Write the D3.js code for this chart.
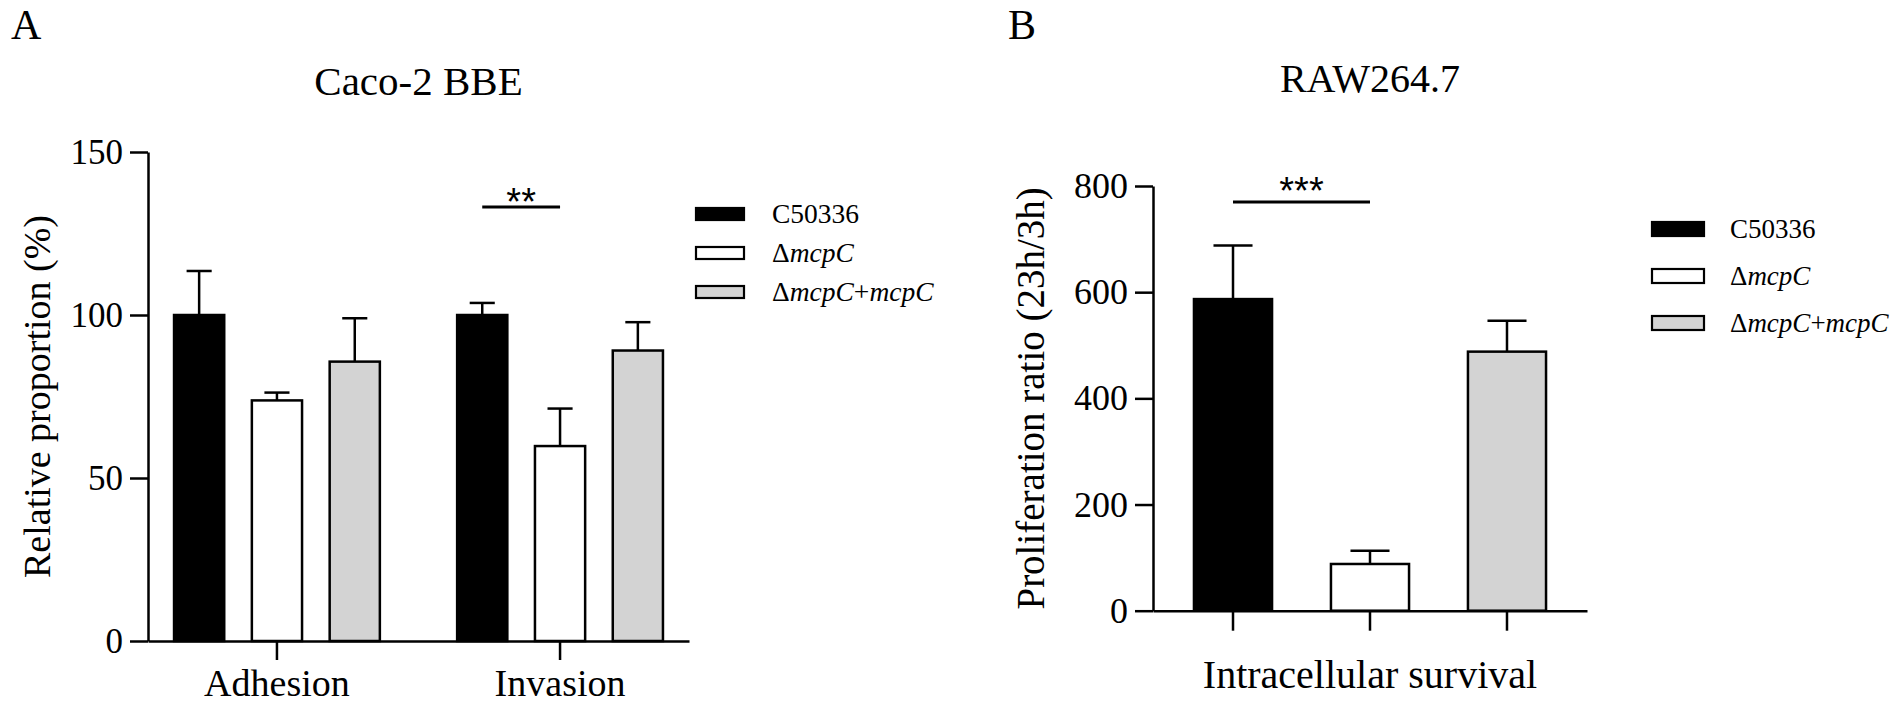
<!DOCTYPE html>
<html>
<head>
<meta charset="utf-8">
<script src="https://cdn.jsdelivr.net/npm/d3@7"></script>
<style>
  html, body { margin: 0; padding: 0; background: #fff; }
  svg { display: block; }
</style>
</head>
<body>
<svg id="chart" width="1902" height="708"></svg>
<script>
// ---------- data ----------
const seriesNames = ["C50336", "ΔmcpC", "ΔmcpC+mcpC"];
const seriesFill = ["#000000", "#ffffff", "#d3d3d3"];

const groupsA = ["Adhesion", "Invasion"];
const adhesionMeans = [100, 73.8, 85.7];
const adhesionSD = [13.5, 2.4, 13.3];
const invasionMeans = [100, 59.8, 89.1];
const invasionSD = [3.7, 11.5, 8.7];
const ticksA = [0, 50, 100, 150];

const categoryB = "Intracellular survival";
const survivalMeans = [587, 88, 488];
const survivalSD = [101, 25, 58];
const ticksB = [0, 200, 400, 600, 800];

// ---------- helpers ----------
const SERIF = "'Liberation Serif', 'Times New Roman', Times, serif";
const SANS = "'Liberation Sans', Arial, sans-serif";
const svg = d3.select("#chart").style("font-family", SERIF);
const SW = 2.5;

function T(sel) { return sel.style("font-family", SERIF).attr("fill", "#000"); }

function legendLabel(sel, name) {
  if (name.startsWith("Δ")) {
    sel.append("tspan").style("font-family", SERIF).text("Δ");
    const parts = name.slice(1).split("+");
    sel.append("tspan").style("font-family", SERIF).attr("font-style", "italic").text(parts[0]);
    if (parts.length > 1) {
      sel.append("tspan").style("font-family", SERIF).text("+");
      sel.append("tspan").style("font-family", SERIF).attr("font-style", "italic").text(parts[1]);
    }
  } else {
    sel.text(name);
  }
}

function drawYAxis(g, y, x0, ticks, fontSize) {
  const ax = d3.axisLeft(y).tickValues(ticks).tickSize(18).tickPadding(7).tickSizeOuter(0);
  const a = g.append("g").attr("transform", `translate(${x0},0)`).call(ax);
  a.attr("font-family", null);
  a.select(".domain").attr("stroke", "#000").attr("stroke-width", SW);
  a.selectAll(".tick line").attr("stroke", "#000").attr("stroke-width", SW);
  T(a.selectAll(".tick text")).attr("font-size", fontSize);
  return a;
}

function drawBars(g, data, y, xFn, bw) {
  g.selectAll("rect.bar").data(data).join("rect")
    .attr("class", "bar")
    .attr("x", d => xFn(d))
    .attr("y", d => y(d.mean))
    .attr("width", bw)
    .attr("height", d => y(0) - y(d.mean))
    .attr("fill", d => d.fill)
    .attr("stroke", "#000").attr("stroke-width", SW);
  g.selectAll("line.err").data(data).join("line")
    .attr("class", "err")
    .attr("x1", d => xFn(d) + bw / 2).attr("x2", d => xFn(d) + bw / 2)
    .attr("y1", d => y(d.mean)).attr("y2", d => y(d.mean + d.sd))
    .attr("stroke", "#000").attr("stroke-width", SW);
  g.selectAll("line.cap").data(data).join("line")
    .attr("class", "cap")
    .attr("x1", d => xFn(d) + bw / 4).attr("x2", d => xFn(d) + bw * 3 / 4)
    .attr("y1", d => y(d.mean + d.sd)).attr("y2", d => y(d.mean + d.sd))
    .attr("stroke", "#000").attr("stroke-width", SW);
}

function drawLegend(g, x, y0, dy, rw, rh, fontSize, textGap) {
  seriesNames.forEach((name, i) => {
    const cy = y0 + i * dy;
    g.append("rect").attr("x", x).attr("y", cy - rh / 2).attr("width", rw).attr("height", rh)
      .attr("fill", seriesFill[i]).attr("stroke", "#000").attr("stroke-width", 2.2);
    const t = T(g.append("text")).attr("x", x + rw + textGap).attr("y", cy + fontSize * 0.33)
      .attr("font-size", fontSize);
    legendLabel(t, name);
  });
}

// ================= Panel A =================
const gA = svg.append("g");
const yA = d3.scaleLinear().domain([0, 150]).range([641, 152]);
const xA = d3.scaleBand().domain(groupsA).range([148, 689]).paddingInner(0.273).paddingOuter(0.092);
const xAi = d3.scaleBand().domain(seriesNames).range([0, xA.bandwidth()]).paddingInner(0.355).paddingOuter(0);

const dataA = [];
groupsA.forEach((gname, gi) => {
  const means = gi === 0 ? adhesionMeans : invasionMeans;
  const sds = gi === 0 ? adhesionSD : invasionSD;
  seriesNames.forEach((s, si) => dataA.push({ group: gname, series: s, mean: means[si], sd: sds[si], fill: seriesFill[si] }));
});
drawBars(gA, dataA, yA, d => xA(d.group) + xAi(d.series), xAi.bandwidth());

drawYAxis(gA, yA, 148, ticksA, 35);
const axA = d3.axisBottom(xA).tickSize(19).tickPadding(12).tickSizeOuter(0);
const xgA = gA.append("g").attr("transform", `translate(0,${yA(0)})`).call(axA);
xgA.attr("font-family", null);
xgA.select(".domain").attr("stroke", "#000").attr("stroke-width", SW);
xgA.selectAll(".tick line").attr("stroke", "#000").attr("stroke-width", SW);
T(xgA.selectAll(".tick text")).attr("font-size", 38).attr("dy", "0.62em");

T(gA.append("text")).attr("transform", `translate(50,${(yA(0) + yA(150)) / 2}) rotate(-90)`)
  .attr("text-anchor", "middle").attr("font-size", 38).text("Relative proportion (%)");
T(gA.append("text")).attr("x", (148 + 689) / 2).attr("y", 95).attr("text-anchor", "middle")
  .attr("font-size", 41).text("Caco-2 BBE");
T(svg.append("text")).attr("x", 11).attr("y", 39).attr("font-size", 42).text("A");

{
  const xs = xA("Invasion") + xAi(seriesNames[0]) + xAi.bandwidth() / 2;
  const xe = xA("Invasion") + xAi(seriesNames[1]) + xAi.bandwidth() / 2;
  gA.append("line").attr("x1", xs).attr("x2", xe).attr("y1", 207).attr("y2", 207)
    .attr("stroke", "#000").attr("stroke-width", 2.8);
  gA.append("text").style("font-family", SANS).attr("x", (xs + xe) / 2).attr("y", 215)
    .attr("text-anchor", "middle").attr("font-size", 38).text("**");
}
drawLegend(gA, 696, 214, 39, 48, 12, 27.5, 28);

// ================= Panel B =================
const gB = svg.append("g");
const yB = d3.scaleLinear().domain([0, 800]).range([610.7, 186]);
const xB = d3.scaleBand().domain(seriesNames).range([1153, 1587]).paddingInner(0.43).paddingOuter(0.299);
const dataB = seriesNames.map((s, i) => ({ series: s, mean: survivalMeans[i], sd: survivalSD[i], fill: seriesFill[i] }));
drawBars(gB, dataB, yB, d => xB(d.series), xB.bandwidth());
drawYAxis(gB, yB, 1153, ticksB, 36);

const axB = d3.axisBottom(xB).tickSize(20).tickFormat("").tickSizeOuter(0);
const xgB = gB.append("g").attr("transform", `translate(0,${yB(0)})`).call(axB);
xgB.select(".domain").attr("stroke", "#000").attr("stroke-width", SW);
xgB.selectAll(".tick line").attr("stroke", "#000").attr("stroke-width", SW);

T(gB.append("text")).attr("x", (1153 + 1587) / 2).attr("y", 688).attr("text-anchor", "middle")
  .attr("font-size", 40).text(categoryB);
T(gB.append("text")).attr("transform", `translate(1044,${(yB(0) + yB(800)) / 2}) rotate(-90)`)
  .attr("text-anchor", "middle").attr("font-size", 39).text("Proliferation ratio (23h/3h)");
T(gB.append("text")).attr("x", (1153 + 1587) / 2).attr("y", 92).attr("text-anchor", "middle")
  .attr("font-size", 40).text("RAW264.7");
T(svg.append("text")).attr("x", 1008).attr("y", 39).attr("font-size", 42).text("B");

{
  const xs = xB(seriesNames[0]) + xB.bandwidth() / 2;
  const xe = xB(seriesNames[1]) + xB.bandwidth() / 2;
  gB.append("line").attr("x1", xs).attr("x2", xe).attr("y1", 202).attr("y2", 202)
    .attr("stroke", "#000").attr("stroke-width", 2.8);
  gB.append("text").style("font-family", SANS).attr("x", (xs + xe) / 2).attr("y", 204)
    .attr("text-anchor", "middle").attr("font-size", 38).text("***");
}
drawLegend(gB, 1652, 229, 47, 52, 14, 27, 26);
</script>
</body>
</html>
